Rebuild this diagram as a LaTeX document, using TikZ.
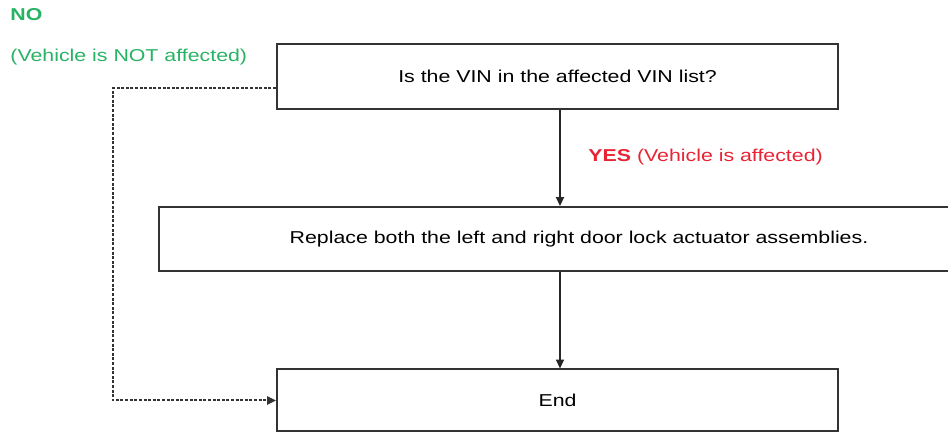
\documentclass[tikz,border=0pt]{standalone}
\usepackage{fontspec}
\setmainfont[FakeStretch=1.24]{Liberation Sans}
\usetikzlibrary{arrows.meta}
\definecolor{nogreen}{RGB}{40,178,100}
\definecolor{yesred}{RGB}{232,36,52}
\tikzset{
    stepbox/.style={draw=black!80, line width=1pt, rectangle, inner sep=0pt,
        font=\fontsize{8.6}{10}\selectfont},
    flow/.style={draw=black!85, line width=.6pt, -{Triangle[length=4.4pt,width=4pt]}},
    noflow/.style={draw=black!80, line width=1pt, dash pattern=on 1.5pt off .8pt,
        -{Triangle[length=4.4pt,width=4pt]}},
    answer/.style={anchor=west, inner sep=0pt, font=\fontsize{8.6}{10}\selectfont}
}
\begin{document}
\begin{tikzpicture}[x=.5pt, y=-.5pt]
            \useasboundingbox (0,0) rectangle (948,432);
            % Boxes
            \node[stepbox, minimum width=280.5pt, minimum height=32.5pt]
            (Check) at (557.5,76.5) {Is the VIN in the affected VIN list?};
            \node[stepbox, minimum width=420pt, minimum height=32pt]
            (Replace) at (579,239) {Replace both the left and right door lock actuator assemblies.};
            \node[stepbox, minimum width=280.5pt, minimum height=31pt]
            (End) at (557.5,400.5) {End};
            % Labels
            \node[answer, text=nogreen] (No) at (10,15) {\textbf{NO}};
            \node[answer, text=nogreen] (NoNote) at (10,57) {(Vehicle is NOT affected)};
            \node[answer, text=yesred] (Yes) at (588,157) {\textbf{YES} (Vehicle is affected)};
            % Arrows
            \coordinate (NoTurn) at (113,88);
            \draw[flow] (Check.south -| 560,0) -- (Replace.north -| 560,0);
            \draw[flow] (Replace.south -| 560,0) -- (End.north -| 560,0);
            \draw[noflow] (Check.west |- NoTurn) -- (NoTurn) -- (NoTurn |- End.west) -- (End.west);
        \end{tikzpicture}
\end{document}
